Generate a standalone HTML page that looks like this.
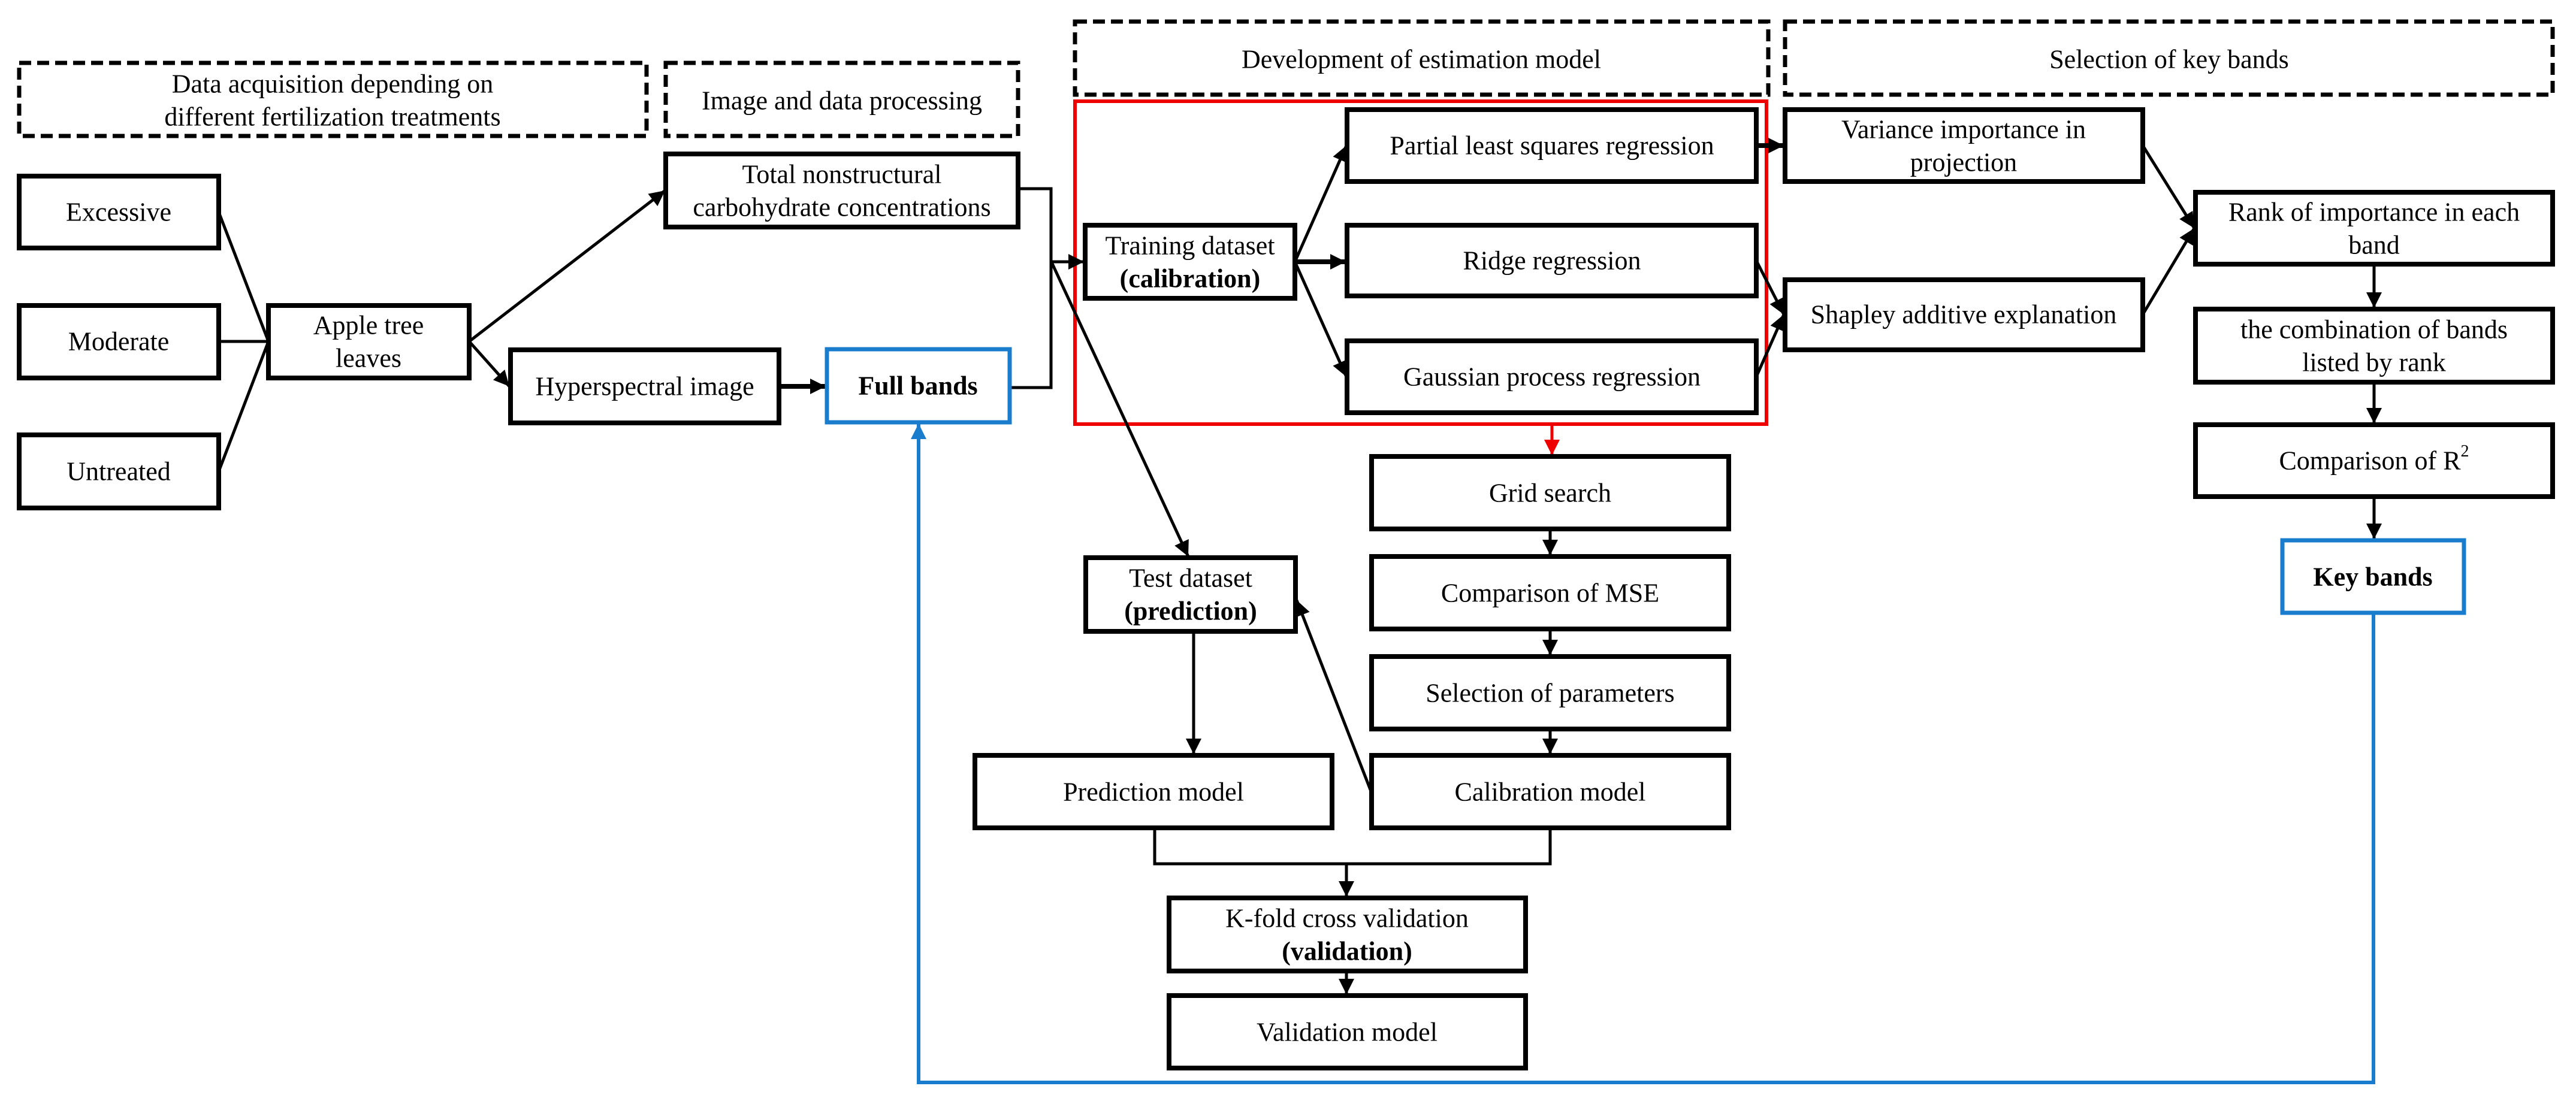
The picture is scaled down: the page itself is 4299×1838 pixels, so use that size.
<!DOCTYPE html>
<html><head><meta charset="utf-8"><style>
html,body{margin:0;padding:0;background:#fff;}
svg{display:block;}
text{font-family:"Liberation Serif",serif;font-size:44px;fill:#000;text-anchor:middle;dominant-baseline:central;}
.b{fill:#fff;stroke:#000;stroke-width:8;}
.bl{fill:#fff;stroke:#1a7ccc;stroke-width:7;}
.d{fill:none;stroke:#000;stroke-width:7;stroke-dasharray:20 10;}
.l{stroke:#000;stroke-width:5;fill:none;}
.lt{stroke:#000;stroke-width:8;fill:none;}
</style></head><body>
<svg width="4299" height="1838" viewBox="0 0 4299 1838" xmlns="http://www.w3.org/2000/svg">
<defs>
<marker id="a" viewBox="0 0 10 10" refX="10" refY="5" markerWidth="28" markerHeight="26" markerUnits="userSpaceOnUse" orient="auto">
<path d="M0,0 L10,5 L0,10 z" fill="#000"/></marker>
<marker id="r" viewBox="0 0 10 10" refX="10" refY="5" markerWidth="28" markerHeight="26" markerUnits="userSpaceOnUse" orient="auto">
<path d="M0,0 L10,5 L0,10 z" fill="#e00"/></marker>
<marker id="u" viewBox="0 0 10 10" refX="10" refY="5" markerWidth="28" markerHeight="26" markerUnits="userSpaceOnUse" orient="auto">
<path d="M0,0 L10,5 L0,10 z" fill="#1a7ccc"/></marker>
</defs>

<!-- headers -->
<rect class="d" x="32" y="105" width="1047" height="122"/>
<text x="555" y="140">Data acquisition depending on</text>
<text x="555" y="195">different fertilization treatments</text>
<rect class="d" x="1111" y="105" width="588" height="122"/>
<text x="1405" y="168">Image and data processing</text>
<rect class="d" x="1794" y="36" width="1157" height="122"/>
<text x="2372" y="99">Development of estimation model</text>
<rect class="d" x="2979" y="36" width="1281" height="122"/>
<text x="3620" y="99">Selection of key bands</text>

<!-- red box -->
<rect x="1794" y="169" width="1154" height="539" fill="none" stroke="#e00" stroke-width="6"/>

<!-- connectors -->
<path class="l" d="M365,354 L448,570 M365,570 L448,570 M365,787 L448,570"/>
<path class="l" d="M783,570 L1110,318" marker-end="url(#a)"/>
<path class="l" d="M783,570 L850,645" marker-end="url(#a)"/>
<path class="lt" d="M1300,645 L1378,645" marker-end="url(#a)"/>
<path class="l" d="M1699,315 L1754,315 L1754,647 L1685,647"/>
<path class="l" d="M1754,437 L1809,437" marker-end="url(#a)"/>
<path class="l" d="M1756,440 L1983,929" marker-end="url(#a)"/>
<path class="l" d="M2161,437 L2247,243" marker-end="url(#a)"/>
<path class="lt" d="M2161,437 L2246,437" marker-end="url(#a)"/>
<path class="l" d="M2161,437 L2247,629" marker-end="url(#a)"/>
<path class="lt" d="M2931,243 L2977,243" marker-end="url(#a)"/>
<path class="l" d="M2931,435 L2977,525" marker-end="url(#a)"/>
<path class="l" d="M2931,629 L2977,525" marker-end="url(#a)"/>
<path class="l" d="M3576,243 L3662,381" marker-end="url(#a)"/>
<path class="l" d="M3576,525 L3662,381" marker-end="url(#a)"/>
<path class="l" d="M3962,441 L3962,514" marker-end="url(#a)"/>
<path class="l" d="M3962,638 L3962,707" marker-end="url(#a)"/>
<path class="l" d="M3962,829 L3962,900" marker-end="url(#a)"/>
<path d="M2590,708 L2590,760" stroke="#e00" stroke-width="5" marker-end="url(#r)"/>
<path class="l" d="M2587,884 L2587,927" marker-end="url(#a)"/>
<path class="l" d="M2587,1050 L2587,1094" marker-end="url(#a)"/>
<path class="l" d="M2587,1217 L2587,1259" marker-end="url(#a)"/>
<path class="l" d="M1992,1054 L1992,1259" marker-end="url(#a)"/>
<path class="l" d="M2288,1321 L2164,1002" marker-end="url(#a)"/>
<path class="l" d="M1927,1382 L1927,1442 L2587,1442 L2587,1382"/>
<path class="l" d="M2247,1442 L2247,1497" marker-end="url(#a)"/>
<path class="l" d="M2247,1621 L2247,1660" marker-end="url(#a)"/>
<path d="M3961,1023 L3961,1807 L1533,1807 L1533,707" stroke="#1a7ccc" stroke-width="6" fill="none" marker-end="url(#u)"/>

<!-- boxes -->
<rect class="b" x="32" y="294" width="333" height="120"/><text x="198" y="354">Excessive</text>
<rect class="b" x="32" y="510" width="333" height="121"/><text x="198" y="570">Moderate</text>
<rect class="b" x="32" y="726" width="333" height="122"/><text x="198" y="787">Untreated</text>
<rect class="b" x="448" y="510" width="335" height="121"/><text x="615" y="543">Apple tree</text><text x="615" y="598">leaves</text>
<rect class="b" x="1111" y="257" width="588" height="122"/><text x="1405" y="291">Total nonstructural</text><text x="1405" y="346">carbohydrate concentrations</text>
<rect class="b" x="852" y="584" width="448" height="122"/><text x="1076" y="645">Hyperspectral image</text>
<rect class="bl" x="1380" y="583" width="305" height="122"/><text x="1532" y="644" font-weight="bold">Full bands</text>
<rect class="b" x="1811" y="376" width="350" height="122"/><text x="1986" y="410">Training dataset</text><text x="1986" y="465" font-weight="bold">(calibration)</text>
<rect class="b" x="2248" y="183" width="683" height="120"/><text x="2590" y="243">Partial least squares regression</text>
<rect class="b" x="2248" y="376" width="683" height="118"/><text x="2590" y="435">Ridge regression</text>
<rect class="b" x="2248" y="569" width="683" height="120"/><text x="2590" y="629">Gaussian process regression</text>
<rect class="b" x="2979" y="183" width="597" height="120"/><text x="3277" y="216">Variance importance in</text><text x="3277" y="271">projection</text>
<rect class="b" x="2979" y="467" width="597" height="117"/><text x="3277" y="525">Shapley additive explanation</text>
<rect class="b" x="3664" y="321" width="596" height="120"/><text x="3962" y="354">Rank of importance in each</text><text x="3962" y="409">band</text>
<rect class="b" x="3664" y="516" width="596" height="122"/><text x="3962" y="550">the combination of bands</text><text x="3962" y="605">listed by rank</text>
<rect class="b" x="3664" y="709" width="596" height="120"/><text x="3962" y="769">Comparison of R<tspan dy="-16" font-size="28">2</tspan></text>
<rect class="bl" x="3809" y="902" width="303" height="121"/><text x="3960" y="963" font-weight="bold">Key bands</text>
<rect class="b" x="2289" y="762" width="596" height="121"/><text x="2587" y="823">Grid search</text>
<rect class="b" x="2289" y="929" width="596" height="121"/><text x="2587" y="990">Comparison of MSE</text>
<rect class="b" x="2289" y="1096" width="596" height="121"/><text x="2587" y="1157">Selection of parameters</text>
<rect class="b" x="2289" y="1261" width="596" height="121"/><text x="2587" y="1322">Calibration model</text>
<rect class="b" x="1812" y="931" width="350" height="123"/><text x="1987" y="965">Test dataset</text><text x="1987" y="1020" font-weight="bold">(prediction)</text>
<rect class="b" x="1627" y="1261" width="596" height="121"/><text x="1925" y="1322">Prediction model</text>
<rect class="b" x="1951" y="1499" width="595" height="122"/><text x="2248" y="1533">K-fold cross validation</text><text x="2248" y="1588" font-weight="bold">(validation)</text>
<rect class="b" x="1951" y="1662" width="595" height="121"/><text x="2248" y="1723">Validation model</text>
</svg>
</body></html>
